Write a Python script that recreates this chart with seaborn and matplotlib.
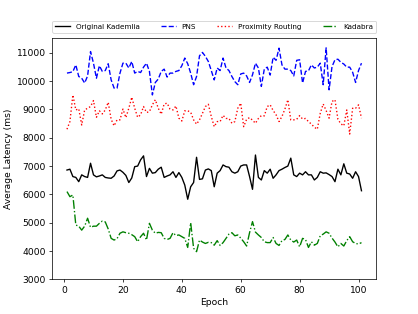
"""
Average lookup latency per epoch for four DHT routing schemes.
"""

import numpy as np
import matplotlib
matplotlib.use("Agg")
import matplotlib.pyplot as plt
import seaborn as sns

epochs = np.arange(1, 102)

original_kademlia = [
    6860, 6890, 6630, 6600, 6450, 6690, 6630, 6600, 7100, 6690,
    6620, 6650, 6690, 6600, 6580, 6570, 6650, 6830, 6860, 6780,
    6670, 6420, 6580, 6980, 7000, 7220, 7360, 6630, 6920, 6750,
    6770, 6890, 6960, 6600, 6650, 6690, 6800, 6600, 6770, 6600,
    6330, 5830, 6270, 6420, 7310, 6530, 6550, 6860, 6900, 6840,
    6270, 6750, 6840, 7040, 6980, 6960, 6800, 6750, 6800, 7000,
    7040, 7040, 6630, 6180, 7390, 6600, 6510, 6840, 6750, 6890,
    6570, 6690, 6840, 6890, 6950, 7000, 7280, 6690, 6630, 6750,
    6690, 6800, 6690, 6690, 6510, 6600, 6800, 6750, 6760, 6700,
    6630, 6450, 6890, 6690, 7080, 6750, 6720, 6570, 6800, 6630,
    6130,
]

pns = [
    10280, 10300, 10330, 10570, 10160, 10100, 9930, 10180, 11040, 10630,
    10100, 10540, 10340, 10370, 10610, 10040, 9750, 9750, 10280, 10630,
    10630, 10460, 10690, 10280, 10340, 10300, 10490, 10630, 10340, 9510,
    9950, 10070, 10340, 10420, 10140, 10280, 10280, 10340, 10370, 10540,
    10810, 10610, 10280, 9870, 10160, 10890, 11010, 10870, 10690, 10370,
    10040, 10460, 10370, 10810, 10460, 10370, 10160, 9980, 9870, 10250,
    10280, 10180, 9950, 10220, 10630, 10460, 9810, 10420, 10490, 10210,
    10840, 10730, 11160, 10570, 10420, 10420, 10370, 10180, 10730, 10750,
    9930, 10340, 10360, 10570, 10460, 10490, 10630, 9870, 11170, 9690,
    10510, 10750, 10770, 10660, 10600, 10490, 10490, 10310, 9950, 10370,
    10630,
]

proximity_routing = [
    8300, 8570, 9510, 8980, 9020, 8450, 8980, 9040, 9100, 9310,
    8720, 8950, 8840, 8980, 9250, 8650, 8420, 8630, 8630, 9010,
    8710, 9040, 9430, 9040, 8720, 8810, 9100, 8890, 8920, 9160,
    9340, 9040, 8830, 9190, 9220, 9010, 8980, 9120, 8690, 8590,
    8950, 8950, 8900, 8630, 8480, 8630, 8860, 9100, 9180, 8750,
    8390, 8570, 8570, 8790, 8680, 8680, 8510, 8570, 9040, 9220,
    8390, 8650, 8710, 8620, 8510, 8680, 8780, 8770, 9100, 9160,
    8960, 8810, 8570, 8750, 9010, 9340, 8630, 8630, 8650, 8780,
    8660, 8680, 8570, 8480, 8370, 8300, 8860, 9190, 8960, 8690,
    9280, 9340, 8650, 8490, 8420, 8980, 8130, 9040, 9040, 9160,
    8690,
]

kadabra = [
    6100, 5920, 5980, 4920, 4880, 4740, 4880, 5160, 4840, 4880,
    4880, 4980, 5060, 5030, 4780, 4450, 4390, 4440, 4630, 4680,
    4650, 4630, 4580, 4510, 4330, 4510, 4630, 4390, 4980, 4740,
    4630, 4660, 4650, 4450, 4410, 4450, 4650, 4550, 4570, 4510,
    4450, 4130, 5000, 4100, 3980, 4390, 4320, 4270, 4310, 4300,
    4210, 4370, 4200, 4300, 4450, 4600, 4650, 4540, 4570, 4460,
    4330, 4180, 4650, 5040, 4670, 4570, 4480, 4330, 4300, 4300,
    4480, 4270, 4200, 4370, 4410, 4570, 4390, 4320, 4390, 4150,
    4450, 4410, 4130, 4330, 4210, 4270, 4540, 4600, 4680, 4630,
    4460, 4320, 4150, 4270, 4180, 4370, 4510, 4330, 4270, 4250,
    4300,
]

# label -> (values, colour, linestyle)
SERIES = {
    "Original Kademlia": (original_kademlia, "black", "-"),
    "PNS": (pns, "blue", "--"),
    "Proximity Routing": (proximity_routing, "red", ":"),
    "Kadabra": (kadabra, "green", "-."),
}

DPI = 65.4
fig, ax = plt.subplots(figsize=(418 / DPI, 314 / DPI), dpi=DPI)

for label, (values, color, ls) in SERIES.items():
    sns.lineplot(x=epochs, y=values, ax=ax, color=color, linestyle=ls,
                 linewidth=1.5, label=label)

ax.set_ylim(bottom=3000)
ax.set_xticks([0, 20, 40, 60, 80, 100])
ax.set_xlabel("Epoch")
ax.set_ylabel("Average Latency (ms)")
ax.legend(bbox_to_anchor=(0, 1.02, 1, 0.102), loc="lower left", ncol=4,
          mode="expand", borderaxespad=0, fontsize=8)

fig.savefig("out.png", dpi=DPI)
plt.close(fig)
